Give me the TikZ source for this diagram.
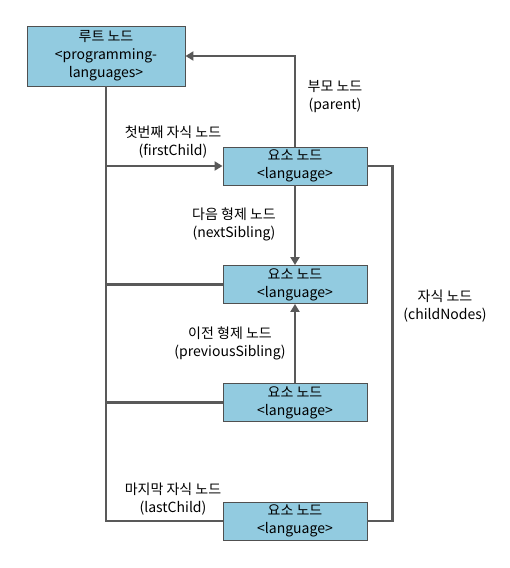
\documentclass[tikz,border=0pt]{standalone}
\usepackage{fontspec}
\setmainfont{Noto Sans CJK KR}
\usetikzlibrary{arrows.meta}
\definecolor{boxfill}{RGB}{146,203,224}
\definecolor{boxline}{RGB}{80,80,80}
\definecolor{lin}{RGB}{89,89,89}
\newcommand{\lt}{\char"003C\relax}
\newcommand{\gt}{\char"003E\relax}
\begin{document}
\begin{tikzpicture}[x=1pt,y=-1pt,
  txt/.style={font=\fontsize{14}{18}\selectfont, align=center, text=black},
  box/.style={txt, draw=boxline, fill=boxfill, line width=0.9pt, minimum width=144pt, minimum height=38pt, inner sep=0pt},
  conn/.style={draw=lin, line width=2.8pt},
  arr/.style={conn, -{Triangle[length=8pt,width=9pt]}},
  lbl/.style={txt, inner sep=0pt}]
\useasboundingbox (0,0) rectangle (510,568);
\node[box, minimum width=158pt, minimum height=60pt] (root) at (106,56) {루트 노드\\\lt programming-\\languages\gt};
\node[box] (b1) at (295,166) {요소 노드\\\lt language\gt};
\node[box] (b2) at (295,284.5) {요소 노드\\\lt language\gt};
\node[box] (b3) at (295,402.5) {요소 노드\\\lt language\gt};
\node[box] (b4) at (295,521) {요소 노드\\\lt language\gt};
\draw[arr] (b1.north) -- (b1.north |- root.east) -- (root.east);
\draw[arr] (b1.south) -- (b2.north);
\draw[arr] (b3.north) -- (b2.south);
\draw[conn, line join=miter] (root.south) -- (root.south |- b4.west) -- (b4.west);
\draw[arr] (root.south |- b1.west) -- (b1.west);
\draw[conn] (root.south |- b2.west) -- (b2.west);
\draw[conn] (root.south |- b3.west) -- (b3.west);
\draw[conn, line join=miter] (b1.east) -- ++(25,0) |- (b4.east);
\node[lbl] (lp) at (335,97) {부모 노드\\(parent)};
\node[lbl] (lf) at (173,142) {첫번째 자식 노드\\(firstChild)};
\node[lbl] (ln) at (234,224) {다음 형제 노드\\(nextSibling)};
\node[lbl] (lc) at (445,306) {자식 노드\\(childNodes)};
\node[lbl] (lv) at (230,343) {이전 형제 노드\\(previousSibling)};
\node[lbl] (ll) at (173,499) {마지막 자식 노드\\(lastChild)};
\end{tikzpicture}
\end{document}
